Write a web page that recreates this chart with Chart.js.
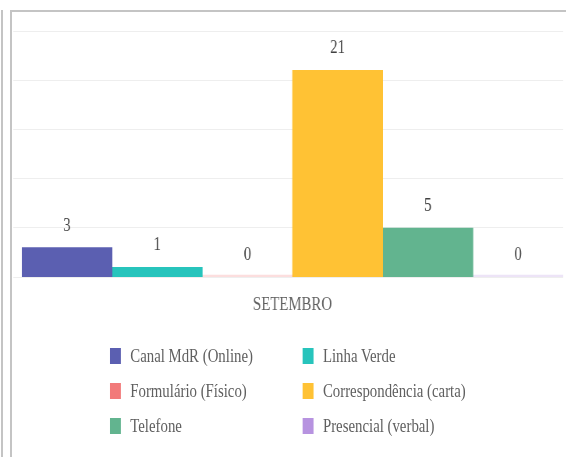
<!DOCTYPE html>
<html>
<head>
<meta charset="utf-8">
<script src="https://cdn.jsdelivr.net/npm/chart.js@4"></script>
<style>
  body { margin: 0; background: #fff; width: 566px; height: 457px; overflow: hidden; position: relative; }
  .edge { position: absolute; left: 1px; top: 10px; height: 460px; border-left: 2px solid #c4c4c4; }
  .frame { position: absolute; left: 10px; top: 10px; width: 570px; height: 460px; border-left: 2px solid #c4c4c4; border-top: 2px solid #c4c4c4; }
  /* the original picture is squeezed sideways, so draw wide and scale down */
  .squeeze { position: absolute; left: 0; top: 0; width: 726px; height: 457px; transform: scaleX(0.78); transform-origin: 0 0; }
  .chart-box { position: absolute; left: 14px; top: 12px; width: 712px; height: 312px; }
  #legend { position: absolute; left: 141px; top: 338px; display: grid; grid-template-columns: 247px 247px; grid-auto-rows: 35px;
            font-family: "Liberation Serif", serif; font-size: 19px; color: #606060; }
  .item { display: flex; align-items: center; white-space: nowrap; }
  .box { width: 14px; height: 16px; margin-right: 12px; flex: none; }
</style>
</head>
<body>
<div class="edge"></div>
<div class="frame"></div>
<div class="squeeze">
  <div class="chart-box"><canvas id="chart"></canvas></div>
  <div id="legend"></div>
</div>
<script>
const categories = ['SETEMBRO'];
const seriesNames = ['Canal MdR (Online)', 'Linha Verde', 'Formulário (Físico)', 'Correspondência (carta)', 'Telefone', 'Presencial (verbal)'];
const seriesValues = [[3], [1], [0], [21], [5], [0]];
const seriesColors = ['#5b5fb1', '#27c4bc', '#f27a7a', '#ffc234', '#62b48f', '#b793e0'];
const yMax = 25;
const yStep = 5;

const fontFamily = '"Liberation Serif", serif';

// numbers above each bar
const valueLabels = {
  id: 'valueLabels',
  afterDatasetsDraw(chart) {
    const ctx = chart.ctx;
    const yScale = chart.scales.y;
    ctx.save();
    ctx.font = '19px ' + fontFamily;
    ctx.fillStyle = '#404040';
    ctx.textAlign = 'center';
    ctx.textBaseline = 'alphabetic';
    chart.data.datasets.forEach((ds, i) => {
      chart.getDatasetMeta(i).data.forEach((bar, j) => {
        ctx.fillText(ds.data[j], bar.x, yScale.getPixelForValue(ds.data[j]) - 17);
      });
    });
    ctx.restore();
  }
};

const datasets = seriesNames.map((name, i) => ({
  label: name,
  data: seriesValues[i],
  backgroundColor: ctx => ctx.raw === 0 ? seriesColors[i] + '40' : seriesColors[i],
  minBarLength: 2,
  categoryPercentage: 1,
  barPercentage: 1
}));

new Chart(document.getElementById('chart'), {
  type: 'bar',
  data: { labels: categories, datasets: datasets },
  options: {
    responsive: true,
    maintainAspectRatio: false,
    animation: false,
    layout: { padding: { top: 19, left: 3, right: 4, bottom: 0 } },
    plugins: {
      legend: { display: false },
      tooltip: { enabled: false }
    },
    scales: {
      x: {
        grid: { display: false },
        border: { display: false },
        ticks: { color: '#606060', padding: 8, font: { family: fontFamily, size: 19 } }
      },
      y: {
        min: 0,
        max: yMax,
        ticks: { display: false, stepSize: yStep },
        grid: { color: '#eeeeee', drawTicks: true, tickLength: 11 },
        border: { display: false }
      }
    }
  },
  plugins: [valueLabels]
});

// legend in two columns
const legend = document.getElementById('legend');
seriesNames.forEach((name, i) => {
  const item = document.createElement('div');
  item.className = 'item';
  item.innerHTML = `<span class="box" style="background:${seriesColors[i]}"></span><span>${name}</span>`;
  legend.appendChild(item);
});
</script>
</body>
</html>
